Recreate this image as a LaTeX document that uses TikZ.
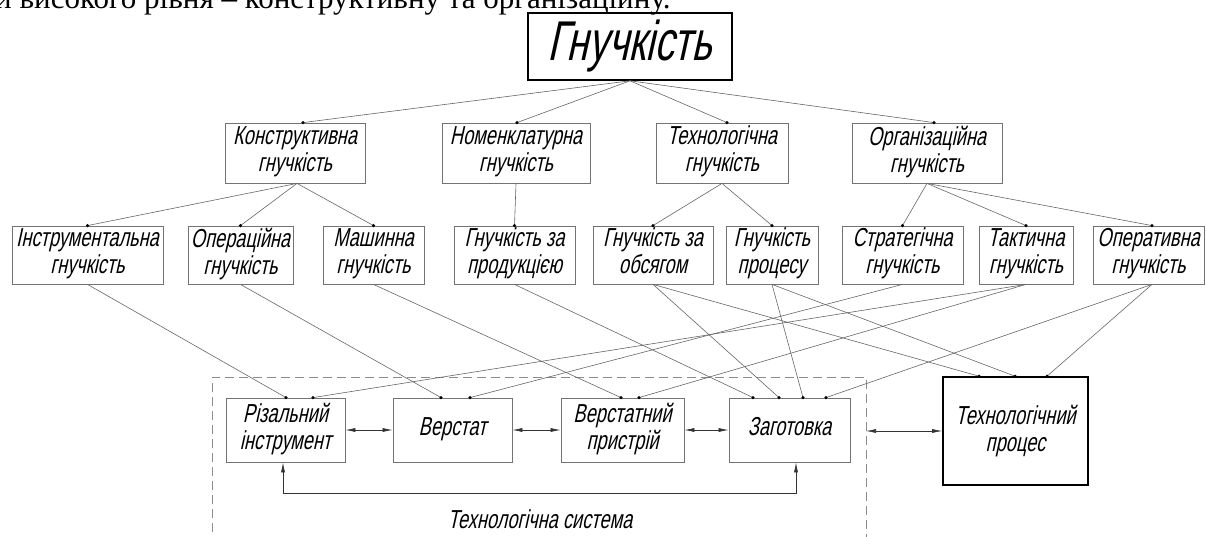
\documentclass[tikz,border=0pt]{standalone}
\usepackage{fontspec}
\setmainfont{Liberation Sans}[FakeSlant=0.22,FakeStretch=0.7]
\newfontfamily\docserif{Liberation Serif}
\usetikzlibrary{arrows.meta,calc}
\begin{document}
\begin{tikzpicture}[x=1pt,y=-1pt,
  box/.style={draw=black!55, line width=0.8pt, inner sep=0pt, align=center,
    font=\fontsize{26}{27}\selectfont, execute at end node=\strut},
  bigbox/.style={draw=black, line width=1.6pt, inner sep=0pt, align=center},
  link/.style={draw=black!60, line width=0.6pt},
  dbl/.style={draw=black!80, line width=0.6pt, {Latex[length=10pt,width=4pt]}-{Latex[length=10pt,width=4pt]}},
  dotc/.style={fill=black},
]
\useasboundingbox (0,0) rectangle (1206,537);
\begin{scope}
\clip (0,0) rectangle (1206,537);
\node[anchor=base west, inner sep=0pt, font=\docserif\fontsize{31}{33}\selectfont] (doc) at (-5,9) {и високого рівня – конструктивну та організаційну.};
\draw[black!45, line width=0.8pt, dash pattern=on 9pt off 5pt] (212,560) |- (866,377) -- (866,560);
\end{scope}

% top
\node[bigbox, minimum width=204, minimum height=67, font=\fontsize{56}{58}\selectfont] (g) at (630,46.5) {Гнучкість};

% level 2
\node[box, minimum width=140, minimum height=60] (k2) at (295,153) {Конструктивна\\гнучкість};
\node[box, minimum width=148, minimum height=60] (n2) at (516,153) {Номенклатурна\\гнучкість};
\node[box, minimum width=132, minimum height=60] (t2) at (722,153) {Технологічна\\гнучкість};
\node[box, minimum width=150, minimum height=60] (o2) at (927,153) {Організаційна\\гнучкість};

% level 3
\node[box, minimum width=151, minimum height=58] (i3) at (87.5,255) {Інструментальна\\гнучкість};
\node[box, minimum width=105, minimum height=58] (op3) at (240.5,255) {Операційна\\гнучкість};
\node[box, minimum width=101, minimum height=58] (m3) at (373.5,255) {Машинна\\гнучкість};
\node[box, minimum width=121, minimum height=58] (p3) at (514.5,255) {Гнучкість за\\продукцією};
\node[box, minimum width=120, minimum height=58] (ob3) at (653,255) {Гнучкість за\\обсягом};
\node[box, minimum width=92, minimum height=58] (pr3) at (772,255) {Гнучкість\\процесу};
\node[box, minimum width=121, minimum height=58] (s3) at (902.5,255) {Стратегічна\\гнучкість};
\node[box, minimum width=94, minimum height=58] (ta3) at (1026,255) {Тактична\\гнучкість};
\node[box, minimum width=111, minimum height=58] (ope3) at (1148.5,255) {Оперативна\\гнучкість};

% bottom
\node[box, minimum width=119, minimum height=64] (ri) at (285.5,430) {Різальний\\інструмент};
\node[box, minimum width=119, minimum height=64] (ve) at (452.5,430) {Верстат};
\node[box, minimum width=123, minimum height=64] (vp) at (622.5,430) {Верстатний\\пристрій};
\node[box, minimum width=121, minimum height=64] (za) at (789.5,430) {Заготовка};
\node[bigbox, minimum width=145, minimum height=108, font=\fontsize{26}{27}\selectfont] (tp) at (1015.5,431) {Технологічний\\процес};
\node[font=\fontsize{26}{27}\selectfont, inner sep=0pt] (ts) at (540,519) {Технологічна система};

% dot coordinates
\coordinate (k2d) at ([xshift=8pt]k2.north);
\coordinate (n2d) at ([xshift=1pt]n2.north);
\coordinate (t2d) at ([xshift=5pt]t2.north);
\coordinate (o2d) at ([xshift=7pt]o2.north);
\coordinate (ope3d) at ([xshift=3.5pt]ope3.north);
\coordinate (ope3b) at ([xshift=3.5pt]ope3.south);
\coordinate (ri1) at ([xshift=0.5pt]ri.north);
\coordinate (ri2) at ([xshift=27.5pt]ri.north);
\coordinate (ve1) at ([xshift=-11.5pt]ve.north);
\coordinate (ve2) at ([xshift=17.5pt]ve.north);
\coordinate (vp1) at ([xshift=-1.5pt]vp.north);
\coordinate (vp2) at ([xshift=16.5pt]vp.north);
\coordinate (za1) at ([xshift=-36.5pt]za.north);
\coordinate (za2) at ([xshift=-10.5pt]za.north);
\coordinate (za3) at ([xshift=13.5pt]za.north);
\coordinate (za4) at ([xshift=36.5pt]za.north);
\coordinate (tp1) at ([xshift=-36.5pt]tp.north);
\coordinate (tp2) at ([xshift=-0.5pt]tp.north);
\coordinate (tp3) at ([xshift=31.5pt]tp.north);
\coordinate (sysE) at (866,431);

% links top -> level 2
\draw[link] (g.south) -- (k2d);
\draw[link] (g.south) -- (n2d);
\draw[link] (g.south) -- (t2d);
\draw[link] (g.south) -- (o2d);
% level 2 -> level 3
\draw[link] ([xshift=2pt]k2.south) -- (i3.north);
\draw[link] ([xshift=2pt]k2.south) -- (op3.north);
\draw[link] ([xshift=2pt]k2.south) -- (m3.north);
\draw[link] (n2.south) -- (p3.north);
\draw[link] (t2.south) -- (ob3.north);
\draw[link] (t2.south) -- (pr3.north);
\draw[link] (o2.south) -- (s3.north);
\draw[link] (o2.south) -- (ta3.north);
\draw[link] (o2.south) -- (ope3d);
% level 3 -> bottom
\draw[link] (i3.south) -- (ri1);
\draw[link] (op3.south) -- (ve1);
\draw[link] (m3.south) -- (vp1);
\draw[link] (p3.south) -- (za1);
\draw[link] (ob3.south) -- (za2);
\draw[link] (ob3.south) -- (tp1);
\draw[link] (pr3.south) -- (za3);
\draw[link] (pr3.south) -- (tp2);
\draw[link] (s3.south) -- (ve2);
\draw[link] (ta3.south) -- (ri2);
\draw[link] (ta3.south) -- (vp2);
\draw[link] (ope3b) -- (za4);
\draw[link] (ope3b) -- (tp3);

% dots
\foreach \c in {k2d,n2d,t2d,o2d,ope3d,ri1,ri2,ve1,ve2,vp1,vp2,za1,za2,za3,za4,tp1,tp2,tp3}
  \fill[dotc] (\c) circle (1.7);
\foreach \c in {i3,op3,m3,p3,ob3,pr3,s3,ta3}
  \fill[dotc] (\c.north) circle (1.7);

% arrows
\draw[dbl] (ri.east) -- (ve.west);
\draw[dbl] (ve.east) -- (vp.west);
\draw[dbl] (vp.east) -- (za.west);
\draw[dbl] (sysE) -- (tp.west);
\draw[dbl] ([xshift=-2.5pt]ri.south) -- ++(0,31) -| ([xshift=6.5pt]za.south);
\end{tikzpicture}
\end{document}
